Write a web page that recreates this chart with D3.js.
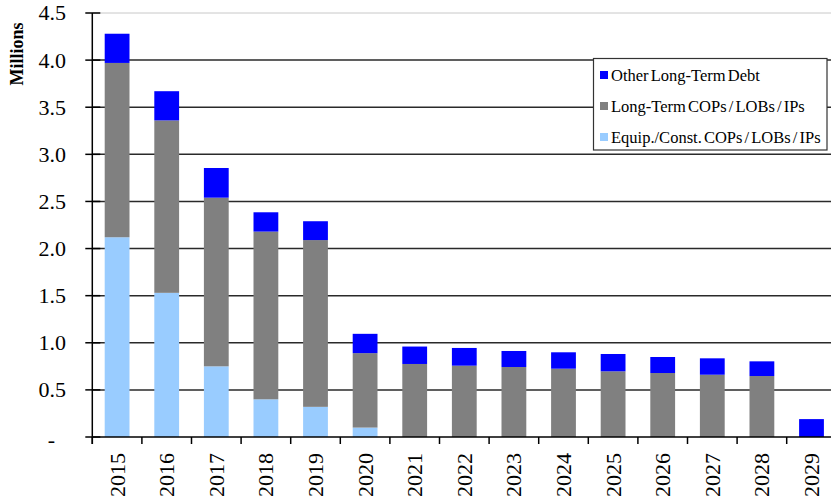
<!DOCTYPE html>
<html>
<head>
<meta charset="utf-8">
<script src="https://cdn.jsdelivr.net/npm/d3@7"></script>
<style>
  html, body { margin: 0; padding: 0; background: #fff; }
  svg { display: block; }
  text { font-family: "Liberation Serif", "Times New Roman", serif; fill: #000; }
</style>
</head>
<body>
<svg id="chart" width="831" height="501"></svg>
<script>
// Debt service by fiscal year, in millions
const years = ["2015","2016","2017","2018","2019","2020","2021","2022","2023","2024","2025","2026","2027","2028","2029"];
const equipConst = [2.12, 1.53, 0.75, 0.40, 0.32, 0.10, 0, 0, 0, 0, 0, 0, 0, 0, 0];
const longTerm   = [1.85, 1.83, 1.79, 1.78, 1.77, 0.79, 0.775, 0.757, 0.743, 0.725, 0.697, 0.679, 0.661, 0.647, 0];
const otherDebt  = [0.31, 0.31, 0.315, 0.205, 0.20, 0.205, 0.185, 0.188, 0.170, 0.174, 0.184, 0.170, 0.174, 0.156, 0.19];
const yTicks = [0, 0.5, 1.0, 1.5, 2.0, 2.5, 3.0, 3.5, 4.0, 4.5];

const seriesNames = ["Equip./Const. COPs / LOBs / IPs", "Long-Term COPs / LOBs / IPs", "Other Long-Term Debt"];
const seriesColors = ["#99ccff", "#808080", "#0000ff"];
const keys = ["equip", "longTerm", "other"];

const rows = years.map((yr, i) => ({ year: yr, equip: equipConst[i], longTerm: longTerm[i], other: otherDebt[i] }));

const svg = d3.select("#chart");
const plotLeft = 92.3, plotRight = 836.3, plotTop = 13, plotBottom = 437;

const x = d3.scaleBand().domain(years).range([plotLeft, plotRight]).paddingInner(0.5).paddingOuter(0.25);
const y = d3.scaleLinear().domain([0, 4.5]).range([plotBottom, plotTop]);
const step = x.step();

// horizontal gridlines
svg.append("g").selectAll("line").data(yTicks.filter(d => d > 0)).join("line")
  .attr("x1", plotLeft).attr("x2", plotRight)
  .attr("y1", d => y(d)).attr("y2", d => y(d))
  .attr("stroke", d => d === 4.5 ? "#c8c8c8" : "#2a2a2a")
  .attr("stroke-width", d => d === 4.5 ? 1 : 1.5);

// stacked bars
const stacked = d3.stack().keys(keys)(rows);
svg.append("g").selectAll("g").data(stacked).join("g")
  .attr("fill", (d, i) => seriesColors[i])
  .selectAll("rect").data(d => d.filter(s => s[1] - s[0] > 0)).join("rect")
  .attr("x", d => x(d.data.year))
  .attr("width", x.bandwidth())
  .attr("y", d => y(d[1]))
  .attr("height", d => y(d[0]) - y(d[1]));

// y axis line and ticks
const axis = svg.append("g").attr("stroke", "#000");
axis.append("line").attr("x1", plotLeft).attr("x2", plotLeft).attr("y1", plotTop).attr("y2", plotBottom + 7).attr("stroke-width", 1.5);
axis.selectAll(".yt").data(yTicks).join("line").attr("class", "yt")
  .attr("x1", plotLeft - 7).attr("x2", plotLeft + 8)
  .attr("y1", d => y(d)).attr("y2", d => y(d)).attr("stroke-width", 1.5);

// x axis line and ticks at category boundaries
axis.append("line").attr("x1", plotLeft).attr("x2", plotRight).attr("y1", plotBottom).attr("y2", plotBottom).attr("stroke-width", 1.5);
axis.selectAll(".xt").data(years).join("line").attr("class", "xt")
  .attr("x1", d => x(d) - step * 0.25).attr("x2", d => x(d) - step * 0.25)
  .attr("y1", plotBottom).attr("y2", plotBottom + 7).attr("stroke-width", 1.5);

// y tick labels
svg.append("g").selectAll("text").data(yTicks).join("text")
  .attr("x", d => d === 0 ? 55 : 66)
  .attr("y", d => y(d))
  .attr("dy", d => d === 0 ? "0.45em" : "0.34em")
  .attr("text-anchor", "end")
  .attr("font-size", 22)
  .text(d => d === 0 ? "-" : d3.format(".1f")(d));

// x tick labels (rotated)
svg.append("g").selectAll("text").data(years).join("text")
  .attr("transform", d => `translate(${x(d) + x.bandwidth() / 2},453) rotate(-90)`)
  .attr("dy", "0.34em")
  .attr("text-anchor", "end")
  .attr("font-size", 22)
  .text(d => d);

// y axis title
svg.append("text")
  .attr("transform", "translate(17,54) rotate(-90)")
  .attr("text-anchor", "middle")
  .attr("dy", "0.34em")
  .attr("font-size", 18)
  .attr("font-weight", "bold")
  .text("Millions");

// legend
const lg = svg.append("g");
lg.append("rect").attr("x", 593.5).attr("y", 58.5).attr("width", 233.5).attr("height", 91.5)
  .attr("fill", "#fff").attr("stroke", "#333").attr("stroke-width", 1.2);
const legendItems = [2, 1, 0];
legendItems.forEach((si, r) => {
  const cy = 75 + r * 31;
  lg.append("rect").attr("x", 600).attr("y", cy - 4).attr("width", 8).attr("height", 8).attr("fill", seriesColors[si]);
  lg.append("text").attr("x", 611).attr("y", cy).attr("dy", "0.34em")
    .attr("font-size", 16.5).attr("word-spacing", -2).text(seriesNames[si]);
});
</script>
</body>
</html>
